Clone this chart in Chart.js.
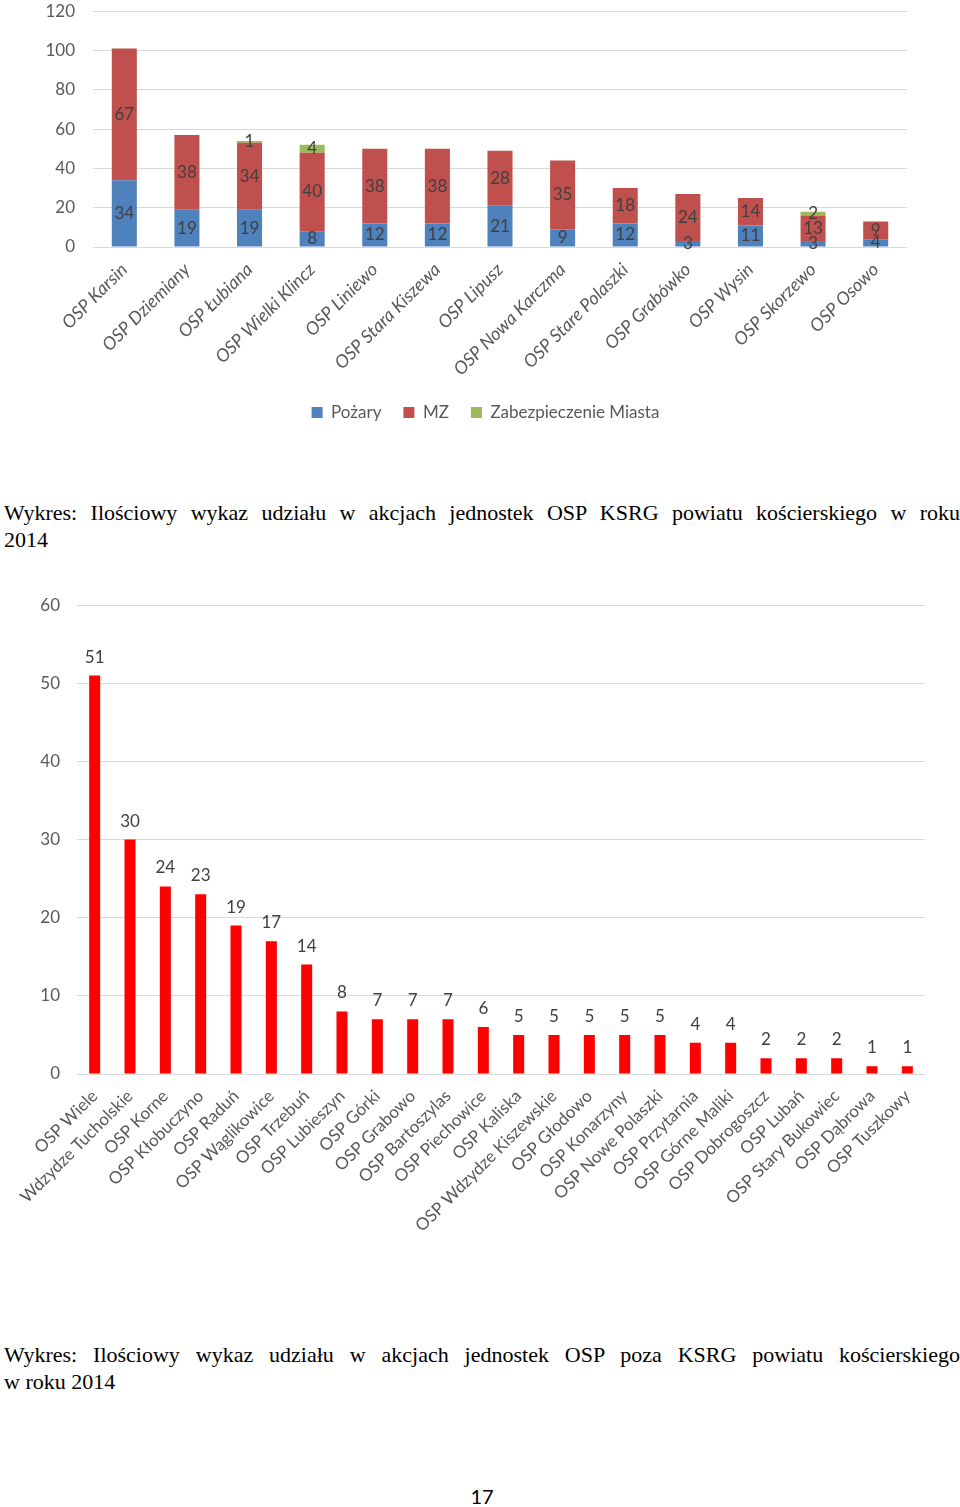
<!DOCTYPE html>
<html>
<head>
<meta charset="utf-8">
<script src="https://cdn.jsdelivr.net/npm/chart.js@4"></script>
<style>
  body { margin: 0; background: #fff; width: 960px; height: 1507px; position: relative; overflow: hidden; }
  .box { position: absolute; left: 0; width: 960px; }
  .cap { position: absolute; left: 4px; width: 956px; font-family: "Liberation Serif", serif; font-size: 22px; line-height: 27px; color: #000; }
  .just { text-align: justify; text-align-last: justify; }
  .page { position: absolute; left: 0; width: 964px; top: 1484px; text-align: center; font-family: Lato, sans-serif; font-size: 20px; }
</style>
</head>
<body>
<div class="box" style="top:-17px;height:448px"><canvas id="ksrg"></canvas></div>
<div class="cap" style="top:499px">
  <div class="just">Wykres: Ilościowy wykaz udziału w akcjach jednostek OSP KSRG powiatu kościerskiego w roku</div>
  <div>2014</div>
</div>
<div class="box" style="top:578px;height:672px"><canvas id="poza"></canvas></div>
<div class="cap" style="top:1341px">
  <div class="just">Wykres: Ilościowy wykaz udziału w akcjach jednostek OSP poza KSRG powiatu kościerskiego</div>
  <div>w roku 2014</div>
</div>
<div class="page">17</div>
<script>
// chart 1: KSRG units, stacked
const ksrgUnits = ['OSP Karsin', 'OSP Dziemiany', 'OSP Łubiana', 'OSP Wielki Klincz', 'OSP Liniewo',
  'OSP Stara Kiszewa', 'OSP Lipusz', 'OSP Nowa Karczma', 'OSP Stare Polaszki', 'OSP Grabówko',
  'OSP Wysin', 'OSP Skorzewo', 'OSP Osowo'];
const pozary = [34, 19, 19, 8, 12, 12, 21, 9, 12, 3, 11, 3, 4];
const mz = [67, 38, 34, 40, 38, 38, 28, 35, 18, 24, 14, 13, 9];
const zabezpieczenie = [0, 0, 1, 4, 0, 0, 0, 0, 0, 0, 0, 2, 0];
const ksrgTicks = [0, 20, 40, 60, 80, 100, 120];

// chart 2: units outside KSRG
const pozaUnits = ['OSP Wiele', 'Wdzydze Tucholskie', 'OSP Korne', 'OSP Kłobuczyno', 'OSP Raduń',
  'OSP Wąglikowice', 'OSP Trzebuń', 'OSP Lubieszyn', 'OSP Górki', 'OSP Grabowo', 'OSP Bartoszylas',
  'OSP Piechowice', 'OSP Kaliska', 'OSP Wdzydze Kiszewskie', 'OSP Głodowo', 'OSP Konarzyny',
  'OSP Nowe Polaszki', 'OSP Przytarnia', 'OSP Górne Maliki', 'OSP Dobrogoszcz', 'OSP Lubań',
  'OSP Stary Bukowiec', 'OSP Dąbrowa', 'OSP Tuszkowy'];
const pozaAkcje = [51, 30, 24, 23, 19, 17, 14, 8, 7, 7, 7, 6, 5, 5, 5, 5, 5, 4, 4, 2, 2, 2, 1, 1];
const pozaTicks = [0, 10, 20, 30, 40, 50, 60];

const FONT = 'Lato, "Open Sans", sans-serif';
const TXT = '#595959';
const GRID = '#d9d9d9';

// draws the value labels (centre of segment or above bar)
const valueLabels = {
  id: 'valueLabels',
  afterDatasetsDraw(chart, args, opts) {
    const ctx = chart.ctx;
    ctx.save();
    ctx.font = (opts.size || 16) + 'px ' + FONT;
    ctx.fillStyle = '#404040';
    ctx.textAlign = 'center';
    chart.data.datasets.forEach((ds, i) => {
      chart.getDatasetMeta(i).data.forEach((bar, j) => {
        const v = ds.data[j];
        if (!v) return;
        if (opts.mode === 'center') {
          ctx.textBaseline = 'middle';
          ctx.fillText(v, bar.x, (bar.y + bar.base) / 2);
        } else {
          ctx.textBaseline = 'bottom';
          ctx.fillText(v, bar.x, bar.y - 10);
        }
      });
    });
    ctx.restore();
  }
};

// legend in the original sits a bit right of the canvas centre
const legendShift = {
  id: 'legendShift',
  afterLayout(chart) {
    if (!chart.legend) return;
    chart.legend.left += 32;
    chart.legend.right += 32;
  }
};

new Chart(document.getElementById('ksrg'), {
  type: 'bar',
  data: {
    labels: ksrgUnits,
    datasets: [
      { label: 'Pożary', data: pozary, backgroundColor: '#4F81BD' },
      { label: 'MZ', data: mz, backgroundColor: '#C0504D' },
      { label: 'Zabezpieczenie Miasta', data: zabezpieczenie, backgroundColor: '#9BBB59' }
    ]
  },
  options: {
    responsive: true, maintainAspectRatio: false, animation: false,
    layout: { padding: { top: 2, right: 53, left: 0, bottom: 0 } },
    datasets: { bar: { categoryPercentage: 0.8, barPercentage: 0.5 } },
    scales: {
      x: {
        stacked: true,
        grid: { display: false },
        border: { display: false },
        ticks: { color: TXT, font: { family: FONT, size: 18, style: 'italic' }, minRotation: 45, maxRotation: 45, padding: 4, autoSkip: false },
        afterFit: s => { s.height = 135; }
      },
      y: {
        stacked: true, min: 0, max: 120,
        afterBuildTicks: s => { s.ticks = ksrgTicks.map(v => ({ value: v })); },
        grid: { color: GRID, drawTicks: false },
        border: { display: false },
        ticks: { color: TXT, font: { family: FONT, size: 17 }, padding: 18 },
        afterFit: s => { s.width = 93; }
      }
    },
    plugins: {
      legend: {
        position: 'bottom',
        labels: { color: TXT, font: { family: FONT, size: 17 }, boxWidth: 11, boxHeight: 11, padding: 22 }
      },
      tooltip: { enabled: false },
      valueLabels: { mode: 'center', size: 17 }
    }
  },
  plugins: [valueLabels, legendShift]
});

new Chart(document.getElementById('poza'), {
  type: 'bar',
  data: {
    labels: pozaUnits,
    datasets: [{ label: 'Akcje', data: pozaAkcje, backgroundColor: '#FF0000' }]
  },
  options: {
    responsive: true, maintainAspectRatio: false, animation: false,
    layout: { padding: { top: 6, right: 35, left: 0, bottom: 0 } },
    datasets: { bar: { categoryPercentage: 0.8, barPercentage: 0.39 } },
    scales: {
      x: {
        grid: { display: false },
        border: { display: false },
        ticks: { color: TXT, font: { family: FONT, size: 17 }, minRotation: 45, maxRotation: 45, padding: 4, autoSkip: false },
        afterFit: s => { s.height = 176; }
      },
      y: {
        min: 0, max: 60,
        afterBuildTicks: s => { s.ticks = pozaTicks.map(v => ({ value: v })); },
        grid: { color: GRID, drawTicks: false },
        border: { display: false },
        ticks: { color: TXT, font: { family: FONT, size: 17 }, padding: 17 },
        afterFit: s => { s.width = 77; }
      }
    },
    plugins: {
      legend: { display: false },
      tooltip: { enabled: false },
      valueLabels: { mode: 'above', size: 17 }
    }
  },
  plugins: [valueLabels]
});
</script>
</body>
</html>
